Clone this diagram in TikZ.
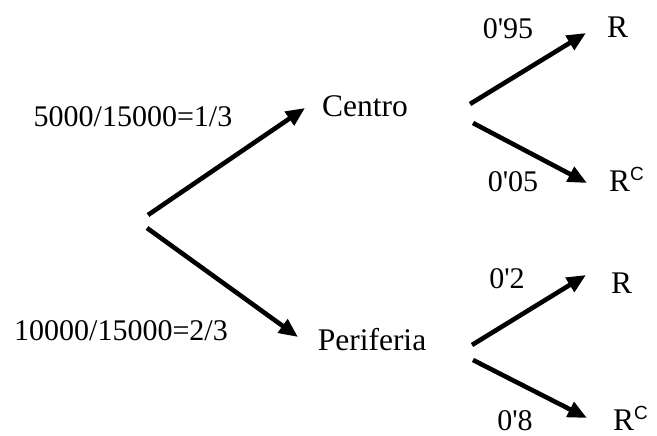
\documentclass[tikz,border=0pt]{standalone}
\usepackage{fontspec}
\setmainfont{Liberation Serif}
\newfontfamily\supfont{Liberation Sans}
\usetikzlibrary{arrows.meta}
\newcommand{\RC}{R\raisebox{11pt}{\supfont\fontsize{19}{19}\selectfont C}}
\newcommand{\q}{\textquotesingle}
\begin{document}
\begin{tikzpicture}[x=1pt,y=-1pt,
  arr/.style={line width=4.6pt,-{Triangle[length=19pt,width=16pt]}},
  lbl/.style={anchor=base,inner sep=0pt,font=\fontsize{30}{30}\selectfont},
  outc/.style={anchor=base,inner sep=0pt,font=\fontsize{31.5}{31.5}\selectfont}]
\useasboundingbox (0,0) rectangle (657,436);
% nodes
\node[outc] (centro) at (365,117) {Centro};
\node[outc] (periferia) at (372,350) {Periferia};
\node[lbl] (l1) at (133,127) {5000/15000=1/3};
\node[lbl] (l2) at (121,340) {10000/15000=2/3};
\node[outc,anchor=base west] (r1) at (607,38) {R};
\node[outc,anchor=base west] (rc1) at (609,192) {\RC};
\node[outc,anchor=base west] (r2) at (611,293) {R};
\node[outc,anchor=base west] (rc2) at (613,430) {\RC};
\node[lbl] (p1) at (508,39) {0\q95};
\node[lbl] (p2) at (513,192) {0\q05};
\node[lbl] (p3) at (507,288) {0\q2};
\node[lbl] (p4) at (515,430) {0\q8};
% connector ends
\coordinate (s1) at (148,215); \coordinate (e1) at (305,108);
\coordinate (s2) at (147,228); \coordinate (e2) at (298,337);
\coordinate (s3) at (470,104); \coordinate (e3) at (586,33);
\coordinate (s4) at (473,123); \coordinate (e4) at (587,183);
\coordinate (s5) at (472,345); \coordinate (e5) at (586,275);
\coordinate (s6) at (473,360); \coordinate (e6) at (587,418);
\draw[arr] (s1) -- (e1);
\draw[arr] (s2) -- (e2);
\draw[arr] (s3) -- (e3);
\draw[arr] (s4) -- (e4);
\draw[arr] (s5) -- (e5);
\draw[arr] (s6) -- (e6);
\end{tikzpicture}
\end{document}
